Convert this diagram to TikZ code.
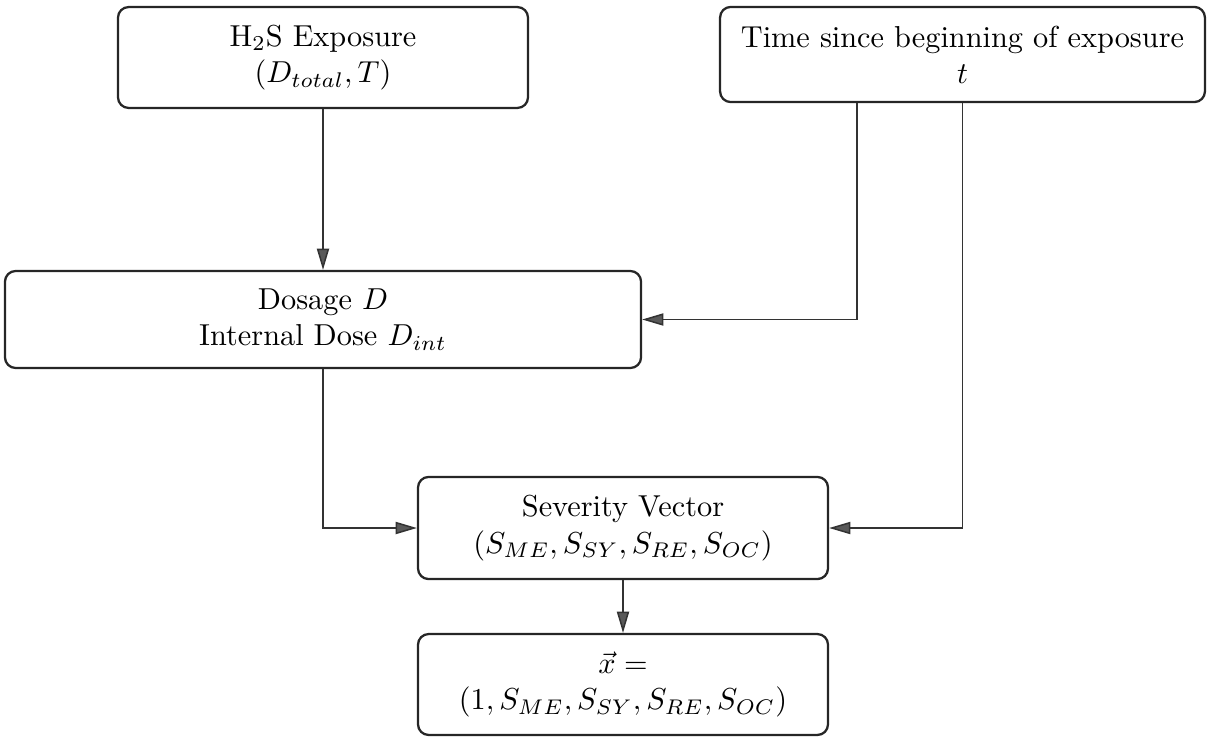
\documentclass[tikz,border=0pt]{standalone}
\usetikzlibrary{arrows.meta}
\begin{document}
\begin{tikzpicture}[x=0.33pt,y=-0.33pt,
  box/.style={draw=black!85, line width=0.75pt, rounded corners=3.5pt, align=center, inner sep=0pt},
  arr/.style={draw=black!80, line width=0.5pt, -{Triangle[length=7pt,width=4pt,fill=black!65]}}]
\useasboundingbox (0,0) rectangle (1207,738);
\node[box, minimum width=135.3pt, minimum height=33.3pt] (h2s) at (323,57.5)
  {H$_2$S Exposure\\$(D_{total},T)$};
\node[box, minimum width=160pt, minimum height=31.4pt] (time) at (962.5,54.5)
  {Time since beginning of exposure\\$t$};
\node[box, minimum width=209.9pt, minimum height=32pt] (dos) at (323,319.5)
  {Dosage $D$\\Internal Dose $D_{int}$};
\node[box, minimum width=135.3pt, minimum height=33.7pt] (sev) at (623,528)
  {Severity Vector\\$(S_{ME},S_{SY},S_{RE},S_{OC})$};
\node[box, minimum width=135.3pt, minimum height=33.3pt] (xv) at (623,684.5)
  {$\vec{x}=$\\$(1,S_{ME},S_{SY},S_{RE},S_{OC})$};
\coordinate (tA) at (857,0);
\draw[arr] (h2s.south) -- (dos.north);
\draw[arr] (tA |- time.south) |- (dos.east);
\draw[arr] (time.south) |- (sev.east);
\draw[arr] (dos.south) |- (sev.west);
\draw[arr] (sev.south) -- (xv.north);
\end{tikzpicture}
\end{document}
